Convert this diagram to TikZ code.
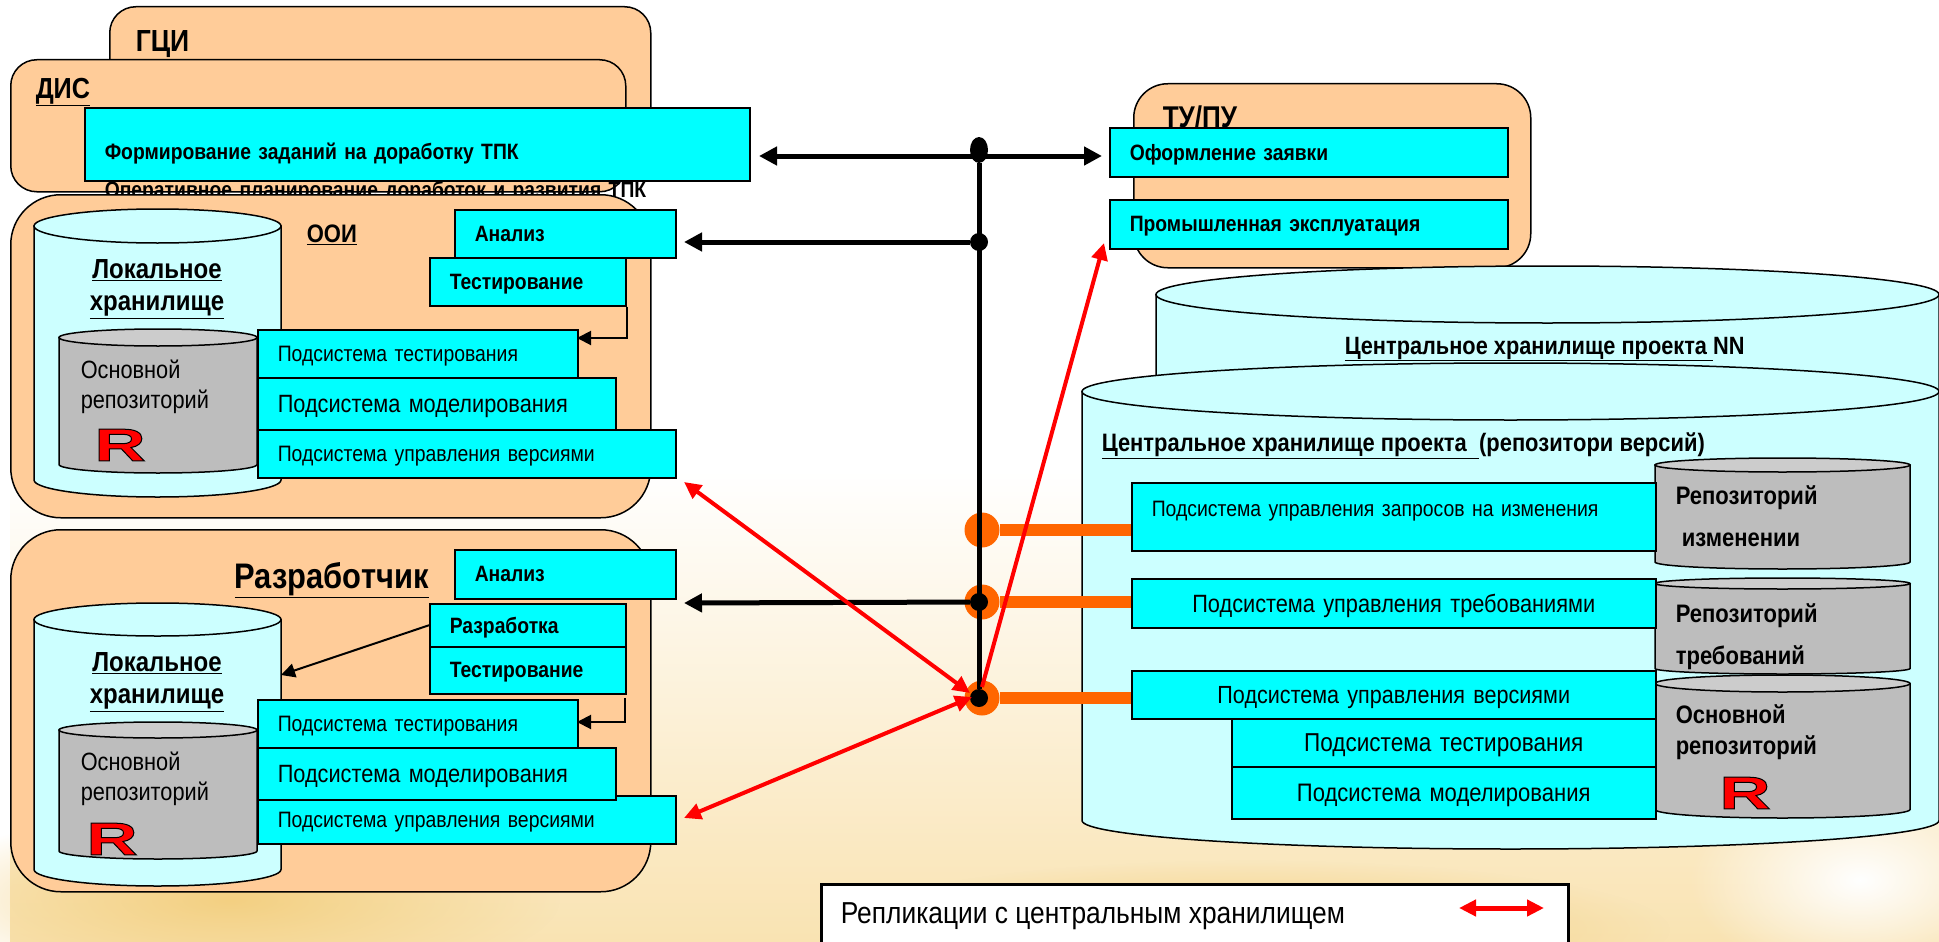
\documentclass[tikz,border=0pt]{standalone}
\usepackage{fontspec}
\setmainfont[FakeStretch=0.87]{Liberation Sans}
\newfontfamily\logofont[FakeBold=2.2,FakeStretch=1.55]{Liberation Sans}
\usetikzlibrary{shapes.geometric,arrows.meta,fadings}
\definecolor{peach}{HTML}{FFCC99}
\definecolor{aqua}{HTML}{00FFFF}
\definecolor{pale}{HTML}{CCFFFF}
\definecolor{steel}{HTML}{BDBDBD}
\definecolor{steeltop}{HTML}{CCCCCC}
\definecolor{hubcol}{HTML}{FF6600}
\definecolor{sand}{HTML}{F9E3B2}
\definecolor{straw}{HTML}{F3D082}
\tikzfading[name=blob, inner color=transparent!0, outer color=transparent!100]
\newcommand{\rlogo}{{\logofont\bfseries\fontsize{46}{46}\selectfont\color{red}\special{pdf:code 0 0 0 RG}R}}
% name, centre x, half width, top y, bottom y, lid height, body colour, lid colour
\newcommand{\tank}[8]{%
    \node[minimum width={2*#3}, minimum height={#5-#4}, inner sep=0pt] (#1) at (#2,{(#4+#5)/2}) {};
    \draw[fill=#7] ({#2-#3},{#4+#6}) -- ({#2-#3},{#5-#6}) arc[start angle=180, end angle=360, x radius=#3pt, y radius=#6pt] -- ({#2+#3},{#4+#6}) -- cycle;
    \draw[fill=#8] (#2,{#4+#6}) ellipse (#3pt and #6pt);
}
\begin{document}
\begin{tikzpicture}[x=1pt, y=-1pt, line width=1.5pt,
    main/.style = {draw, fill=peach, anchor=north west},
    task/.style 2 args = {draw, fill=aqua, anchor=north west, minimum width=#1pt, minimum height=#2pt, inner xsep=20pt, inner ysep=0pt, text width=#1pt-40pt, text depth=0pt, align=left, font=\fontsize{22.3}{26}\selectfont},
    boldtask/.style 2 args = {task={#1}{#2}, font=\fontsize{22.2}{26}\selectfont\bfseries},
    title/.style = {anchor=west, inner sep=0pt, font=\fontsize{29}{32}\selectfont\bfseries},
    small/.style = {anchor=west, inner sep=0pt, align=left, font=\fontsize{25}{30}\selectfont},
    dot/.style = {ellipse, fill=black, minimum width=18pt, minimum height=18pt, inner sep=0pt, outer sep=0pt},
    hub/.style = {circle, fill=hubcol, minimum size=35pt, inner sep=0pt, outer sep=0pt},
    bus/.style = {line width=5pt},
    feed/.style = {line width=12pt, draw=hubcol},
    link/.style = {line width=5pt, -{Triangle[length=18pt,width=18pt]}},
    link2/.style = {line width=5pt, {Triangle[length=18pt,width=18pt]}-{Triangle[length=18pt,width=18pt]}},
    thin/.style = {line width=2pt, -{Triangle[length=14pt,width=14pt]}},
    sync/.style = {draw=red, line width=4pt, {Triangle[length=17pt,width=16pt]}-{Triangle[length=17pt,width=16pt]}}]
        \useasboundingbox (0,0) rectangle (1939,942);
        \shade[top color=white, bottom color=sand] (10,470) rectangle (1939,942);
        \fill[straw, path fading=blob] (230,900) ellipse (330 and 90);
        \fill[straw, path fading=blob] (1250,930) ellipse (420 and 70);
        \fill[white, path fading=blob] (1860,880) ellipse (170 and 100);

        \node[main, rounded corners=26pt, minimum width=541pt, minimum height=169pt] (gci) at (109,6) {};
        \node[title, font=\fontsize{30.5}{34}\selectfont\bfseries] (gcilabel) at (135,45) {\underline{ГЦИ}};
        \node[main, rounded corners=26pt, minimum width=615pt, minimum height=132pt] (dis) at (10,59) {};
        \node[title] (dislabel) at (35,92) {\underline{ДИС}};
        \node[boldtask={665}{73}] (plan) at (84,107) {\rule{0pt}{30pt}Формирование заданий на доработку ТПК\\[12pt]Оперативное планирование доработок и развития ТПК};

        \node[main, rounded corners=50pt, minimum width=640pt, minimum height=323pt] (ooi) at (10,194) {};
        \tank{ooilocal}{157.5}{123.5}{209}{497}{17}{pale}{pale}
        \node[anchor=center, inner sep=0pt, align=center, font=\fontsize{27.6}{32}\selectfont\bfseries] (ooilocaltext) at (157,289) {\underline{Локальное}\\\underline{хранилище}};
        \tank{ooirepo}{158}{99}{329}{473}{8.5}{steel}{steeltop}
        \node[small] (ooirepotext) at (80,387) {Основной\\репозиторий};
        \node[inner sep=0pt] (ooilogo) at (120,445) {\rlogo};
        \node[title, font=\fontsize{25.3}{28}\selectfont\bfseries] (ooilabel) at (306,235) {\underline{ООИ}};
        \node[boldtask={221}{48}] (ooian) at (454,209) {Анализ};
        \node[boldtask={196}{48}] (ooitest) at (429,257) {Тестирование};
        \node[task={320}{48}] (ooisubt) at (257,329) {Подсистема тестирования};
        \node[task={358}{52}, font=\fontsize{25}{28}\selectfont] (ooisubm) at (257,377) {Подсистема моделирования};
        \node[task={418}{48}] (ooisubv) at (257,429) {Подсистема управления версиями};

        \node[main, rounded corners=50pt, minimum width=640pt, minimum height=362pt] (dev) at (10,529) {};
        \tank{devlocal}{157.5}{123.5}{603}{886}{16.5}{pale}{pale}
        \node[anchor=center, inner sep=0pt, align=center, font=\fontsize{27.6}{32}\selectfont\bfseries] (devlocaltext) at (157,682) {\underline{Локальное}\\\underline{хранилище}};
        \tank{devrepo}{158}{99}{722}{859}{8}{steel}{steeltop}
        \node[small] (devrepotext) at (80,779) {Основной\\репозиторий};
        \node[inner sep=0pt] (devlogo) at (112,839) {\rlogo};
        \node[title, font=\fontsize{35.5}{40}\selectfont\bfseries] (devlabel) at (234,580) {\underline{Разработчик}};
        \node[boldtask={221}{49}] (devan) at (454,549) {Анализ};
        \node[boldtask={196}{43}] (devwork) at (429,603) {Разработка};
        \node[boldtask={196}{47}] (devtest) at (429,646) {Тестирование};
        \node[task={320}{48}] (devsubt) at (257,699) {Подсистема тестирования};
        \node[task={418}{48}] (devsubv) at (257,795) {Подсистема управления версиями};
        \node[task={358}{52}, font=\fontsize{25}{28}\selectfont] (devsubm) at (257,747) {Подсистема моделирования};

        \node[main, rounded corners=34pt, minimum width=397pt, minimum height=184pt] (tu) at (1133,83) {};
        \node[title, font=\fontsize{30}{34}\selectfont\bfseries] (tulabel) at (1162,117) {ТУ/ПУ};
        \node[boldtask={398}{49}] (order) at (1109,127) {Оформление заявки};
        \node[boldtask={398}{49}] (prod) at (1109,199) {Промышленная эксплуатация};

        \tank{central}{1547.5}{391.5}{266}{500}{28.5}{pale}{pale}
        \node[anchor=west, inner sep=0pt, font=\fontsize{25}{28}\selectfont\bfseries] (centraltext) at (1344,349) {\underline{Центральное хранилище проекта }NN};
        \tank{project}{1510.5}{428.5}{363}{849}{28.5}{pale}{pale}
        \node[anchor=west, inner sep=0pt, font=\fontsize{25.2}{28}\selectfont\bfseries] (projecttext) at (1101,446) {\underline{Центральное хранилище проекта\ \ }(репозитори версий)};

        \node[hub] (hubreq) at (982,530) {};
        \node[hub] (hubneed) at (982,602) {};
        \node[hub] (hubver) at (982,698) {};

        \tank{repochange}{1782.5}{127.5}{458}{569}{7}{steel}{steeltop}
        \node[small, font=\fontsize{25.3}{42}\selectfont\bfseries] (repochangetext) at (1675,516) {Репозиторий\\\ изменении};
        \tank{reponeed}{1782.5}{127.5}{578}{674}{5.5}{steel}{steeltop}
        \node[small, font=\fontsize{25.3}{42}\selectfont\bfseries] (reponeedtext) at (1675,637) {Репозиторий\\требований};
        \tank{repomain}{1782.5}{127.5}{675}{818}{8.5}{steel}{steeltop}
        \node[small, font=\fontsize{25.3}{31}\selectfont\bfseries] (repomaintext) at (1675,732) {Основной\\репозиторий};
        \node[inner sep=0pt] (repologo) at (1745,793) {\rlogo};

        \node[task={524}{68}] (subreq) at (1131,482) {\raisebox{15pt}{Подсистема управления запросов на изменения}};
        \node[task={524}{49}, align=center, font=\fontsize{25}{28}\selectfont] (subneed) at (1131,578) {Подсистема управления требованиями};
        \node[task={424}{48}, align=center, font=\fontsize{25.9}{28}\selectfont] (subtest) at (1231,718) {Подсистема тестирования};
        \node[task={424}{52}, align=center, font=\fontsize{25.3}{28}\selectfont] (submodel) at (1231,766) {Подсистема моделирования};
        \node[task={524}{48}, align=center, font=\fontsize{24.8}{28}\selectfont] (subver) at (1131,670) {Подсистема управления версиями};

        \node[draw, anchor=north west, fill=white, line width=2.5pt, minimum width=747pt, minimum height=70pt] (legend) at (820,883) {};
        \node[anchor=west, inner sep=0pt, font=\fontsize{30.3}{34}\selectfont] (legendtext) at (840,916) {Репликации с центральным хранилищем};
        \coordinate (legfrom) at (1459,908);
        \coordinate (legto) at (1544,908);

        \node[dot, minimum height=26pt] (dotplan) at (979,150) {};
        \node[dot] (dotan) at (979,242) {};
        \node[dot] (dotdev) at (979,602) {};
        \node[dot] (dotver) at (979,698) {};

        \coordinate (planin) at (759,156);
        \coordinate (orderin) at (1102,156);
        \coordinate (ooian-in) at (684,242);
        \coordinate (devan-in) at (684,603);
        \coordinate (ooitestin) at (577,338);
        \coordinate (devtestout) at (625,698);
        \coordinate (devtestin) at (577,722);
        \coordinate (devlocalin) at (281,675);
        \coordinate (ooisync) at (684,482);
        \coordinate (devsync) at (684,818);
        \coordinate (hubleft) at (970,693);
        \coordinate (hubleftb) at (972,697);
        \coordinate (hubup) at (982,687);
        \coordinate (prodin) at (1104,243);
        \coordinate (feedreq) at (1131,530);
        \coordinate (feedneed) at (1131,602);
        \coordinate (feedver) at (1131,698);

        \draw[feed] (hubreq) -- (feedreq);
        \draw[feed] (hubneed) -- (feedneed);
        \draw[feed] (hubver) -- (feedver);
        \draw[bus] (dotplan) -- (dotver);
        \draw[link2] (planin) -- (orderin);
        \draw[link] (dotan) -- (ooian-in);
        \draw[link] (dotdev) -- (devan-in);
        \draw[thin] (ooitest.south east) |- (ooitestin);
        \draw[thin] (devtestout) |- (devtestin);
        \draw[thin] (devwork.west) -- (devlocalin);
        \draw[sync] (ooisync) -- (hubleft);
        \draw[sync] (devsync) -- (hubleftb);
        \draw[draw=red, line width=4pt, -{Triangle[length=17pt,width=16pt]}] (hubup) -- (prodin);
        \draw[sync, line width=5pt] (legfrom) -- (legto);
    \end{tikzpicture}
\end{document}
